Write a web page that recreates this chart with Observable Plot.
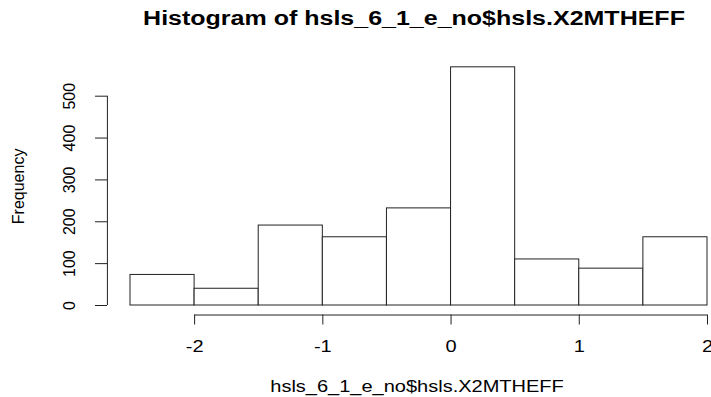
<!DOCTYPE html>
<html>
<head>
<meta charset="utf-8">
<script src="https://cdn.jsdelivr.net/npm/d3@7"></script>
<script src="https://cdn.jsdelivr.net/npm/@observablehq/plot@0.6"></script>
<style>
  html, body { margin: 0; padding: 0; background: white; }
  #wrap { width: 711px; height: 397px; position: relative; overflow: hidden; background: white; }
  #title { position: relative; height: 36px; width: 711px; }
  #title span {
    position: absolute; left: 414px; top: 8px; line-height: 20px; white-space: nowrap;
    font-family: "Liberation Sans", Arial, sans-serif; font-weight: bold; font-size: 20px; color: #000;
    transform: translateX(-50%) scaleX(1.25); transform-origin: center;
  }
  svg { display: block; }
</style>
</head>
<body>
<div id="wrap">
  <div id="title"><span>Histogram of hsls_6_1_e_no$hsls.X2MTHEFF</span></div>
  <div id="chart"></div>
</div>
<script>
const breaks = [-2.5, -2, -1.5, -1, -0.5, 0, 0.5, 1, 1.5, 2];
const counts = [73, 40, 191, 163, 232, 569, 110, 88, 163];
const xTicks = [-2, -1, 0, 1, 2];
const yTicks = [0, 100, 200, 300, 400, 500];
const xLabel = "hsls_6_1_e_no$hsls.X2MTHEFF";
const yLabel = "Frequency";

const bins = counts.map((c, i) => ({x1: breaks[i], x2: breaks[i + 1], count: c}));

// R-style plot region: limits extended by 4%
const xPad = 0.04 * (breaks[breaks.length - 1] - breaks[0]);
const xUsr0 = breaks[0] - xPad;
const xUsr1 = breaks[breaks.length - 1] + xPad;
const yMax = d3.max(counts);
const yUsr0 = -0.04 * yMax;
const yUsr1 = yMax * 1.04;

const font = "'Liberation Sans', Arial, sans-serif";
const ink = "#222";

const chart = Plot.plot({
  width: 711,
  height: 361,
  marginLeft: 130,
  marginRight: 4,
  marginTop: 59.7,
  marginBottom: 92,
  x: {domain: [breaks[0], breaks[breaks.length - 1]], label: null},
  y: {domain: [0, 500], label: null},
  style: {fontFamily: font, fontSize: "16px", background: "white", color: "#000", overflow: "visible"},
  marks: [
    Plot.rectY(bins, {x1: "x1", x2: "x2", y: "count", fill: "white", stroke: ink, strokeWidth: 1}),
    Plot.ruleX([xUsr0], {y1: yTicks[0], y2: yTicks[yTicks.length - 1], stroke: ink}),
    Plot.ruleY([yUsr0], {x1: xTicks[0], x2: xTicks[xTicks.length - 1], stroke: ink}),
    Plot.axisY(yTicks, {tickSize: 12, dx: -23, stroke: ink, label: null, tickFormat: () => ""}),
    Plot.axisX(xTicks, {tickSize: 10, dy: 9.5, stroke: ink, label: null, tickFormat: () => ""}),
    Plot.text(xTicks, {x: d => d, y: () => yUsr0, dy: 37, text: d => String(d), lineAnchor: "bottom", textAnchor: "middle", fontSize: 16, fill: "#000"}),
    Plot.text(yTicks, {y: d => d, x: () => xUsr0, dx: -32, text: d => String(d), rotate: -90, lineAnchor: "bottom", textAnchor: "middle", fontSize: 16, fill: "#000"}),
    Plot.text([xLabel], {x: () => (xUsr0 + xUsr1) / 2, y: () => yUsr0, dx: -2, dy: 76.5, text: d => d, lineAnchor: "bottom", textAnchor: "middle", fontSize: 16, fill: "#000"}),
    Plot.text([yLabel], {x: () => xUsr0, y: () => (yUsr0 + yUsr1) / 2, dx: -83, text: d => d, rotate: -90, lineAnchor: "bottom", textAnchor: "middle", fontSize: 16, fill: "#000"})
  ]
});

document.getElementById("chart").appendChild(chart);

// the reference is horizontally stretched: widen horizontal texts
chart.querySelectorAll("text").forEach(t => {
  const tr = t.getAttribute("transform") || "";
  if (tr.includes("rotate")) return;
  const len = t.getComputedTextLength();
  if (len > 0) {
    t.setAttribute("textLength", len * 1.25);
    t.setAttribute("lengthAdjust", "spacingAndGlyphs");
  }
});
</script>
</body>
</html>
